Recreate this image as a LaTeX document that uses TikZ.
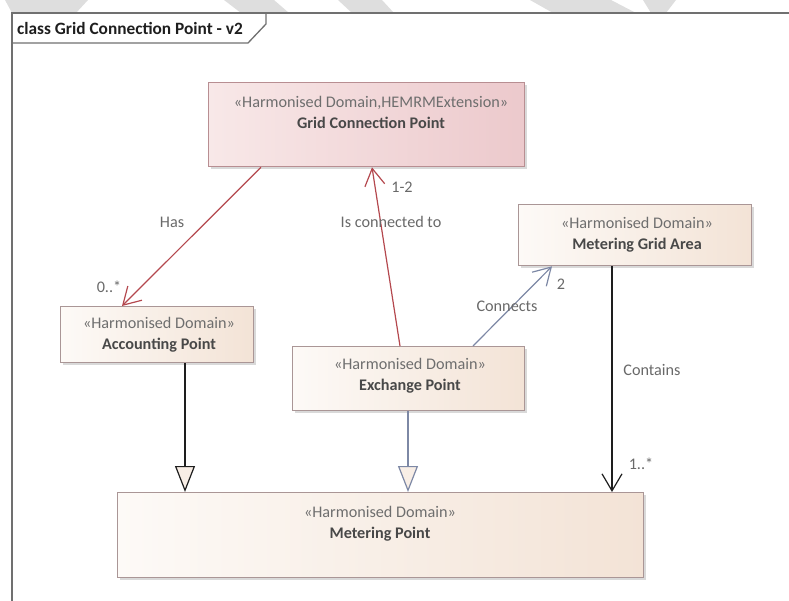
\documentclass[tikz,border=0pt]{standalone}
\usepackage{fontspec}
\setmainfont{Carlito}
\usetikzlibrary{arrows.meta,shadows,calc}
\definecolor{framec}{RGB}{112,112,112}
\definecolor{wmark}{RGB}{222,222,222}
\definecolor{pinkL}{RGB}{248,232,232}
\definecolor{pinkR}{RGB}{236,201,204}
\definecolor{pinkB}{RGB}{184,142,146}
\definecolor{beigeL}{RGB}{253,250,247}
\definecolor{beigeR}{RGB}{243,227,214}
\definecolor{beigeB}{RGB}{170,150,150}
\definecolor{redc}{RGB}{180,72,78}
\definecolor{bluec}{RGB}{125,136,165}
\definecolor{blackc}{RGB}{30,30,30}
\definecolor{stereoc}{RGB}{110,110,110}
\definecolor{namec}{RGB}{72,72,72}
\definecolor{labelc}{RGB}{105,105,105}
\definecolor{trifill}{RGB}{248,238,230}
\tikzset{
  classbox/.style={draw=beigeB, line width=1.3pt, left color=beigeL, right color=beigeR,
    anchor=north west, inner sep=0pt,
    drop shadow={shadow xshift=2.5pt, shadow yshift=-2.5pt, opacity=0.3, fill=gray}},
  pinkbox/.style={classbox, draw=pinkB, left color=pinkL, right color=pinkR},
  boxtext/.style={align=center, font=\fontsize{16.2}{21}\selectfont, text=namec, inner sep=0pt},
  lbl/.style={font=\fontsize{16.2}{19}\selectfont, text=labelc, inner sep=0pt},
  assoc/.style={line width=1.2pt, -{Straight Barb[length=17pt, width=20pt, line width=1.2pt]}},
  gen/.style={line width=1.2pt, -{Triangle[length=26pt, width=20pt, fill=trifill, line width=1.2pt]}}
}
\newcommand{\stereo}[1]{{\color{stereoc}«#1»}}
\begin{document}
\begin{tikzpicture}[x=1pt,y=-1pt]
\useasboundingbox (0,0) rectangle (789,601);
% watermark remnants
\fill[wmark] (5,0) -- (88,0) -- (76,13) -- (12,13) -- cycle;
\fill[wmark] (224,0) -- (274,0) -- (289,13) -- (241,13) -- cycle;
\fill[wmark] (338,0) -- (382,0) -- (394,13) -- (352,13) -- cycle;
\fill[wmark] (530,0) -- (611,0) -- (636,13) -- (553,13) -- cycle;
\fill[wmark] (643,0) -- (676,0) -- (666,13) -- (651,13) -- cycle;
% frame
\draw[framec, line width=1.5pt] (12,601) -- (12,13) -- (789,13);
\draw[framec, line width=1.3pt] (12,43) -- (248,43) -- (266,24) -- (266,13);
\node[anchor=west, inner sep=0pt, font=\fontsize{17.3}{19}\selectfont\bfseries, text=blackc] (title) at (17,28) {class Grid Connection Point - v2};
% boxes
\node[pinkbox, minimum width=316pt, minimum height=84pt] (gcp) at (208,82) {};
\node[classbox, minimum width=193pt, minimum height=56pt] (ap) at (60,306) {};
\node[classbox, minimum width=232pt, minimum height=64pt] (ep) at (292,346) {};
\node[classbox, minimum width=233pt, minimum height=61pt] (mga) at (518,204) {};
\node[classbox, minimum width=526pt, minimum height=85pt] (mp) at (117,492) {};
% box texts
\node[boxtext] (gcpt) at (371,112) {\stereo{Harmonised Domain,HEMRMExtension}\\\textbf{Grid Connection Point}};
\node[boxtext] (apt) at (159,335) {\stereo{Harmonised Domain}\\\textbf{Accounting Point}};
\node[boxtext] (ept) at (410,376) {\stereo{Harmonised Domain}\\\textbf{Exchange Point}};
\node[boxtext] (mgat) at (637,235) {\stereo{Harmonised Domain}\\\textbf{Metering Grid Area}};
\node[boxtext] (mpt) at (380,524) {\stereo{Harmonised Domain}\\\textbf{Metering Point}};
% connectors
\draw[assoc, redc] ([xshift=53pt]gcp.south west) -- ([xshift=62pt]ap.north west);
\draw[assoc, redc] ([xshift=108pt]ep.north west) -- ([xshift=164pt]gcp.south west);
\draw[assoc, bluec] ([xshift=181pt]ep.north west) -- ([xshift=34pt]mga.south west);
\draw[assoc, blackc] ([xshift=94pt]mga.south west) -- ([xshift=495pt]mp.north west);
\draw[gen, blackc] ([xshift=125pt]ap.south west) -- ([xshift=68pt]mp.north west);
\draw[gen, bluec] ([xshift=116pt]ep.south west) -- ([xshift=291pt]mp.north west);
% labels
\node[lbl] (has) at (172,222) {Has};
\node[lbl] (hasm) at (109,287) {0..*};
\node[lbl] (ict) at (391,222) {Is connected to};
\node[lbl] (ictm) at (402,187) {1-2};
\node[lbl] (con) at (507,306) {Connects};
\node[lbl] (conm) at (561,284) {2};
\node[lbl] (cts) at (652,370) {Contains};
\node[lbl] (ctsm) at (641,464) {1..*};
\end{tikzpicture}
\end{document}
